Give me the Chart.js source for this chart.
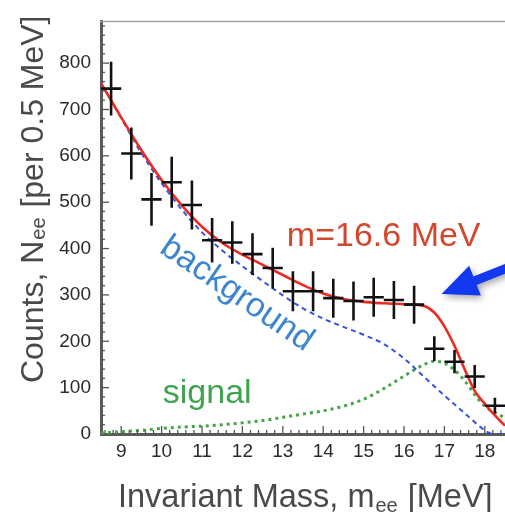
<!DOCTYPE html>
<html><head><meta charset="utf-8">
<script src="https://cdn.jsdelivr.net/npm/chart.js@4/dist/chart.umd.min.js"></script>
<style>html,body{margin:0;padding:0;background:#fff;overflow:hidden}canvas{display:block}</style>
</head><body><canvas id="c" width="505" height="512"></canvas>
<script>
// ---- data ----
const binCenters = [8.75, 9.25, 9.75, 10.25, 10.75, 11.25, 11.75, 12.25, 12.75, 13.25, 13.75, 14.25, 14.75, 15.25, 15.75, 16.25, 16.75, 17.25, 17.75, 18.25];
const counts     = [745, 605, 506, 543, 494, 418, 413, 388, 358, 308, 308, 293, 287, 295, 289, 279, 184, 156, 124, 61];
const countErrors= [58, 56, 57, 55, 53, 48, 46, 45, 44, 43, 43, 42, 42, 42, 41, 41, 27, 25, 25, 17];
const binHalfWidth = 0.25;

const totalX = [8.5, 9, 9.5, 10, 10.5, 11, 11.5, 12, 12.5, 13, 13.5, 14, 14.5, 15, 15.5, 16, 16.5, 16.75, 17, 17.25, 17.5, 17.75, 18, 18.25, 18.5];
const totalFit = [757, 683, 612, 548, 493, 447, 412, 387, 365, 343, 321, 303, 291, 285, 282, 280, 276, 262, 232, 190, 140, 93, 65, 40, 18];

const bkgX = [8.5, 9, 9.5, 10, 10.5, 11, 11.5, 12, 12.5, 13, 13.5, 14, 14.5, 15, 15.5, 16, 16.5, 17, 17.5, 18, 18.2, 18.5];
const backgroundFit = [757, 681, 606, 541, 484, 435, 396, 362, 330, 299, 271, 249, 231, 214, 194, 163, 123, 83, 45, 8, 0, 0];

const sigX = [8.5, 9, 9.5, 10, 10.5, 11, 11.5, 12, 12.5, 13, 13.5, 14, 14.5, 15, 15.5, 16, 16.5, 16.75, 17, 17.25, 17.5, 17.75, 18, 18.25, 18.5];
const signalFit = [2, 5, 8, 12, 15, 17, 20, 24, 29, 36, 43, 50, 60, 75, 98, 125, 150, 157, 153, 138, 115, 85, 60, 46, 35];

const xTicks = [9, 10, 11, 12, 13, 14, 15, 16, 17, 18];
const yTicks = [0, 100, 200, 300, 400, 500, 600, 700, 800];

// ---- labels / annotations ----
const massLabel = 'm=16.6 MeV';
const bkgLabel = 'background';
const sigLabel = 'signal';

const FONT = '"Liberation Sans", Arial, Helvetica, sans-serif';

function errV() {
  const d = [];
  binCenters.forEach((x, i) => {
    d.push({x, y: counts[i] - countErrors[i]}, {x, y: counts[i] + countErrors[i]}, {x, y: null});
  });
  return d;
}
function errH() {
  const d = [];
  binCenters.forEach((x, i) => {
    d.push({x: x - binHalfWidth, y: counts[i]}, {x: x + binHalfWidth, y: counts[i]}, {x, y: null});
  });
  return d;
}
const pairs = (xs, ys) => xs.map((x, i) => ({x, y: ys[i]}));

const decor = {
  id: 'decor',
  afterDatasetsDraw(chart) {
    const {ctx, chartArea: a, scales: {x, y}} = chart;
    ctx.save();
    // top frame line
    ctx.strokeStyle = '#a0a0a0'; ctx.lineWidth = 1.5;
    ctx.beginPath(); ctx.moveTo(a.left - 1, a.top); ctx.lineTo(a.right + 2, a.top); ctx.stroke();
    // inward minor/major ticks
    ctx.strokeStyle = '#555'; ctx.lineWidth = 1.3;
    for (let k = 43; k <= 92; k++) {
      const v = k * 0.2;
      const px = x.getPixelForValue(v);
      if (px < a.left + 2 || px > a.right) continue;
      const major = Math.abs(v - Math.round(v)) < 1e-6;
      ctx.beginPath(); ctx.moveTo(px, a.bottom); ctx.lineTo(px, a.bottom - (major ? 8 : 4)); ctx.stroke();
    }
    for (let v = 20; v <= 880; v += 20) {
      const py = y.getPixelForValue(v);
      const major = v % 100 === 0;
      ctx.beginPath(); ctx.moveTo(a.left, py); ctx.lineTo(a.left + (major ? 8 : 4), py); ctx.stroke();
    }
    // text annotations
    ctx.textBaseline = 'alphabetic';
    ctx.textAlign = 'left';
    ctx.fillStyle = '#d4472f';
    ctx.font = '34px ' + FONT;
    ctx.fillText(massLabel, x.getPixelForValue(13.1), y.getPixelForValue(405));
    ctx.fillStyle = '#3fa34d';
    ctx.font = '34px ' + FONT;
    ctx.fillText(sigLabel, x.getPixelForValue(10.03), y.getPixelForValue(67));
    ctx.save();
    ctx.translate(x.getPixelForValue(11.86), y.getPixelForValue(302));
    ctx.rotate(34.5 * Math.PI / 180);
    ctx.fillStyle = '#3d86cf';
    ctx.textAlign = 'center'; ctx.textBaseline = 'middle';
    ctx.fillText(bkgLabel, 0, 0);
    ctx.restore();
    // arrow
    const tx = x.getPixelForValue(16.93), ty = y.getPixelForValue(302);
    const sx = x.getPixelForValue(18.9), sy = y.getPixelForValue(370);
    const dx = sx - tx, dy = sy - ty, L = Math.hypot(dx, dy);
    const ux = dx / L, uy = dy / L, nx = -uy, ny = ux;
    const hl = 36, hw = 16, sw = 4.5;
    const bx = tx + ux * hl, by = ty + uy * hl;
    ctx.save();
    ctx.shadowColor = 'rgba(0,0,0,0.35)'; ctx.shadowBlur = 7; ctx.shadowOffsetX = 2; ctx.shadowOffsetY = 3;
    ctx.fillStyle = '#1438f0';
    ctx.beginPath();
    ctx.moveTo(tx, ty);
    ctx.lineTo(bx + nx * hw, by + ny * hw);
    ctx.lineTo(bx + nx * sw, by + ny * sw);
    ctx.lineTo(sx + nx * sw, sy + ny * sw);
    ctx.lineTo(sx - nx * sw, sy - ny * sw);
    ctx.lineTo(bx - nx * sw, by - ny * sw);
    ctx.lineTo(bx - nx * hw, by - ny * hw);
    ctx.closePath(); ctx.fill();
    ctx.restore();
    // axis titles
    ctx.fillStyle = '#4a4a4a';
    ctx.textAlign = 'left'; ctx.textBaseline = 'alphabetic';
    let cx = 118;
    const by0 = 507;
    ctx.font = '32.5px ' + FONT;
    let s = 'Invariant Mass, m';
    ctx.fillText(s, cx, by0); cx += ctx.measureText(s).width;
    ctx.font = '20px ' + FONT;
    ctx.fillText('ee', cx + 1, by0 + 5); cx += ctx.measureText('ee').width + 2;
    ctx.font = '32.5px ' + FONT;
    ctx.fillText(' [MeV]', cx, by0);
    // y title
    ctx.save();
    ctx.translate(43, 383);
    ctx.rotate(-Math.PI / 2);
    let cy = 0;
    ctx.font = '32px ' + FONT;
    s = 'Counts, N';
    ctx.fillText(s, cy, 0); cy += ctx.measureText(s).width;
    ctx.font = '20px ' + FONT;
    ctx.fillText('ee', cy + 1, 2); cy += ctx.measureText('ee').width + 2;
    ctx.font = '32px ' + FONT;
    ctx.fillText(' [per 0.5 MeV]', cy, 0);
    ctx.restore();
    ctx.restore();
  }
};

const tickFont = {family: FONT, size: 19};
new Chart(document.getElementById('c'), {
  type: 'scatter',
  data: {
    datasets: [
      {data: errV(), showLine: true, spanGaps: false, borderColor: '#111', borderWidth: 2.6, pointRadius: 0},
      {data: errH(), showLine: true, spanGaps: false, borderColor: '#111', borderWidth: 2.6, pointRadius: 0},
      {data: pairs(totalX, totalFit), showLine: true, borderColor: '#ee2a22', borderWidth: 2.6, pointRadius: 0, cubicInterpolationMode: 'monotone'},
      {data: pairs(bkgX, backgroundFit), showLine: true, borderColor: '#3552e0', borderWidth: 2, borderDash: [5, 4], pointRadius: 0, cubicInterpolationMode: 'monotone'},
      {data: pairs(sigX, signalFit), showLine: true, borderColor: '#45a445', borderWidth: 3, borderDash: [3, 4], pointRadius: 0, cubicInterpolationMode: 'monotone'}
    ]
  },
  options: {
    responsive: false, animation: false, devicePixelRatio: 1,
    layout: {padding: {top: 12, right: 0, left: 0, bottom: 0}},
    plugins: {legend: {display: false}, tooltip: {enabled: false}},
    scales: {
      x: {
        type: 'linear', min: 8.5, max: 18.5,
        afterBuildTicks: s => { s.ticks = xTicks.map(v => ({value: v})); },
        afterFit: s => { s.height = 78; },
        ticks: {font: tickFont, color: '#2a2a2a', padding: 6, maxRotation: 0, autoSkip: false},
        grid: {display: false, drawTicks: false},
        border: {display: true, color: '#5a5a5a', width: 3}
      },
      y: {
        type: 'linear', min: 0, max: 890,
        afterBuildTicks: s => { s.ticks = yTicks.map(v => ({value: v})); },
        afterFit: s => { s.width = 101; },
        ticks: {font: tickFont, color: '#2a2a2a', padding: 10, autoSkip: false},
        grid: {display: false, drawTicks: false},
        border: {display: true, color: '#5a5a5a', width: 3}
      }
    }
  },
  plugins: [decor]
});
</script>
</body></html>
